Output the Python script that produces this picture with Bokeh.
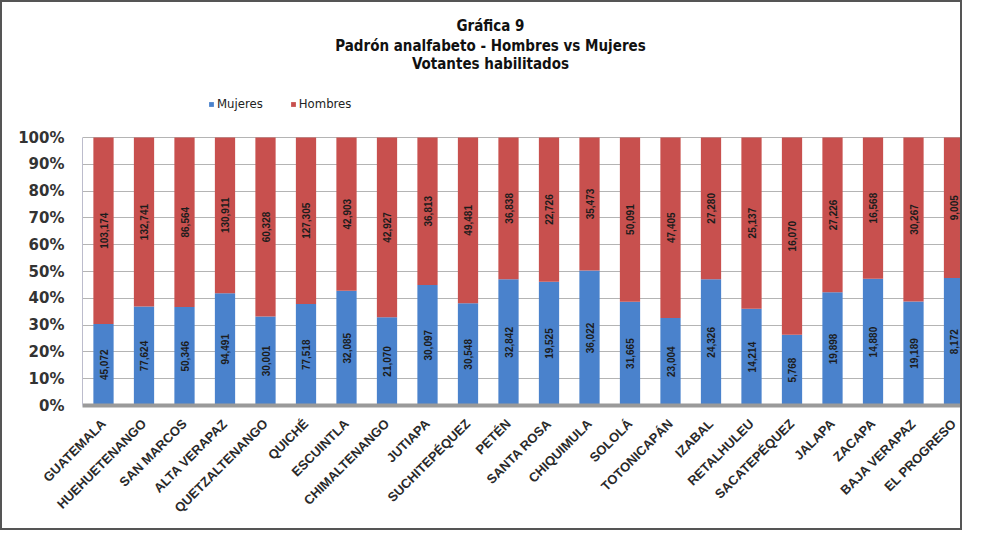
from math import pi
from bokeh.plotting import figure
from bokeh.models import (ColumnDataSource, Label, Legend, LegendItem, FixedTicker,
                          Range1d)
from bokeh.core.properties import value
from bokeh.embed import file_html
from bokeh.resources import INLINE

departamentos = ["GUATEMALA", "HUEHUETENANGO", "SAN MARCOS", "ALTA VERAPAZ", "QUETZALTENANGO",
                 "QUICHÉ", "ESCUINTLA", "CHIMALTENANGO", "JUTIAPA", "SUCHITEPÉQUEZ", "PETÉN",
                 "SANTA ROSA", "CHIQUIMULA", "SOLOLÁ", "TOTONICAPÁN", "IZABAL", "RETALHULEU",
                 "SACATEPÉQUEZ", "JALAPA", "ZACAPA", "BAJA VERAPAZ", "EL PROGRESO"]
mujeres = [45072, 77624, 50346, 94491, 30001, 77518, 32085, 21070, 30097, 30548, 32842,
           19525, 36022, 31665, 23004, 24326, 14214, 5768, 19898, 14880, 19189, 8172]
hombres = [103174, 132741, 86564, 130911, 60328, 127305, 42903, 42927, 36813, 49481, 36838,
           22726, 35473, 50091, 47405, 27280, 25137, 16070, 27226, 16568, 30267, 9005]
y_ticks = [0, 0.1, 0.2, 0.3, 0.4, 0.5, 0.6, 0.7, 0.8, 0.9, 1.0]
y_tick_labels = ["0%", "10%", "20%", "30%", "40%", "50%", "60%", "70%", "80%", "90%", "100%"]
titulo = ["Gráfica 9", "Padrón analfabeto - Hombres vs Mujeres", "Votantes habilitados"]

BLUE = "#4a82cc"
RED = "#c8504e"
TITLE_FONT = "DejaVu Sans Condensed, Roboto, sans-serif"

idx = list(range(len(departamentos)))
tot = [m + h for m, h in zip(mujeres, hombres)]
mf = [m / t for m, t in zip(mujeres, tot)]
hf = [h / t for h, t in zip(hombres, tot)]
src = ColumnDataSource(dict(
    x=idx, mf=mf, hf=hf,
    mmid=[f / 2 for f in mf],
    hmid=[a + b / 2 for a, b in zip(mf, hf)],
    mlab=[f"{v:,}" for v in mujeres],
    hlab=[f"{v:,}" for v in hombres],
))

W, H = 962, 530
left, right, top, bottom = 80, 1, 0, 127
fw = W - left - right
fh = H - top - bottom
unit = 268.0                      # pixels per 100 %
spacing = 40.5                    # pixels per category
x0 = -21 / spacing
x1 = x0 + fw / spacing
y1 = fh / unit

p = figure(width=W, height=H, output_backend="svg", toolbar_location=None,
           x_range=Range1d(x0, x1), y_range=Range1d(0, y1),
           min_border_left=left, min_border_right=right,
           min_border_top=top, min_border_bottom=bottom,
           background_fill_color="white", border_fill_color="white")
p.styles = {"border": "2px solid #555"}
p.outline_line_color = None

r = p.vbar_stack(["mf", "hf"], x="x", width=0.5, color=[BLUE, RED], source=src,
                 line_color=None)

for col, ycol in (("mlab", "mmid"), ("hlab", "hmid")):
    p.text(x="x", y=ycol, text=col, source=src, angle=pi / 2, text_align="center",
           text_baseline="middle", text_font=value("Liberation Sans"), text_font_style="bold",
           text_font_size="10px", text_color="#1c1c1c")

# axes
p.xaxis.ticker = FixedTicker(ticks=idx)
p.xaxis.major_label_overrides = {i: d for i, d in zip(idx, departamentos)}
p.xaxis.major_label_orientation = pi / 4
p.xaxis.major_label_text_font = "Liberation Sans"
p.xaxis.major_label_text_font_style = "bold"
p.xaxis.major_label_text_font_size = "13px"
p.xaxis.major_label_text_color = "#2a2a2a"
p.xaxis.major_tick_line_color = None
p.xaxis.minor_tick_line_color = None
p.xaxis.axis_line_color = "#9a9a9a"
p.xaxis.axis_line_width = 4
p.xaxis.major_label_standoff = 10

p.yaxis.ticker = FixedTicker(ticks=y_ticks)
p.yaxis.major_label_overrides = {t: l for t, l in zip(y_ticks, y_tick_labels)}
p.yaxis.major_label_text_font = "DejaVu Sans"
p.yaxis.major_label_text_font_style = "bold"
p.yaxis.major_label_text_font_size = "15px"
p.yaxis.major_label_text_color = "#333333"
p.yaxis.major_tick_line_color = None
p.yaxis.minor_tick_line_color = None
p.yaxis.axis_line_color = "#bcbccc"
p.yaxis.bounds = (0, 1)
p.yaxis.major_label_standoff = 12

p.xgrid.grid_line_color = None
p.ygrid.grid_line_color = "#b4b4b4"
p.ygrid.grid_line_width = 1

# title lines (inside the frame, above the 100 % line)
cx = x0 + (490 - 82) / spacing
for t, img_y in zip(titulo, [25, 45, 63]):
    p.add_layout(Label(x=cx, y=(405 - img_y) / unit, text=t, text_align="center",
                       text_baseline="middle", text_font=TITLE_FONT, text_font_style="bold",
                       text_font_size="15px", text_color="#111111"))

legend = Legend(items=[LegendItem(label="Mujeres", renderers=[r[0]]),
                       LegendItem(label="Hombres", renderers=[r[1]])],
                orientation="horizontal", location=(126, 294),
                glyph_width=6, glyph_height=6, label_standoff=3, spacing=27,
                padding=0, margin=0, border_line_color=None, background_fill_alpha=0,
                label_text_font=TITLE_FONT, label_text_font_size="13px",
                label_text_color="#222222", label_height=14)
p.add_layout(legend, "center")

open("out.html", "w").write(file_html(p, INLINE))
